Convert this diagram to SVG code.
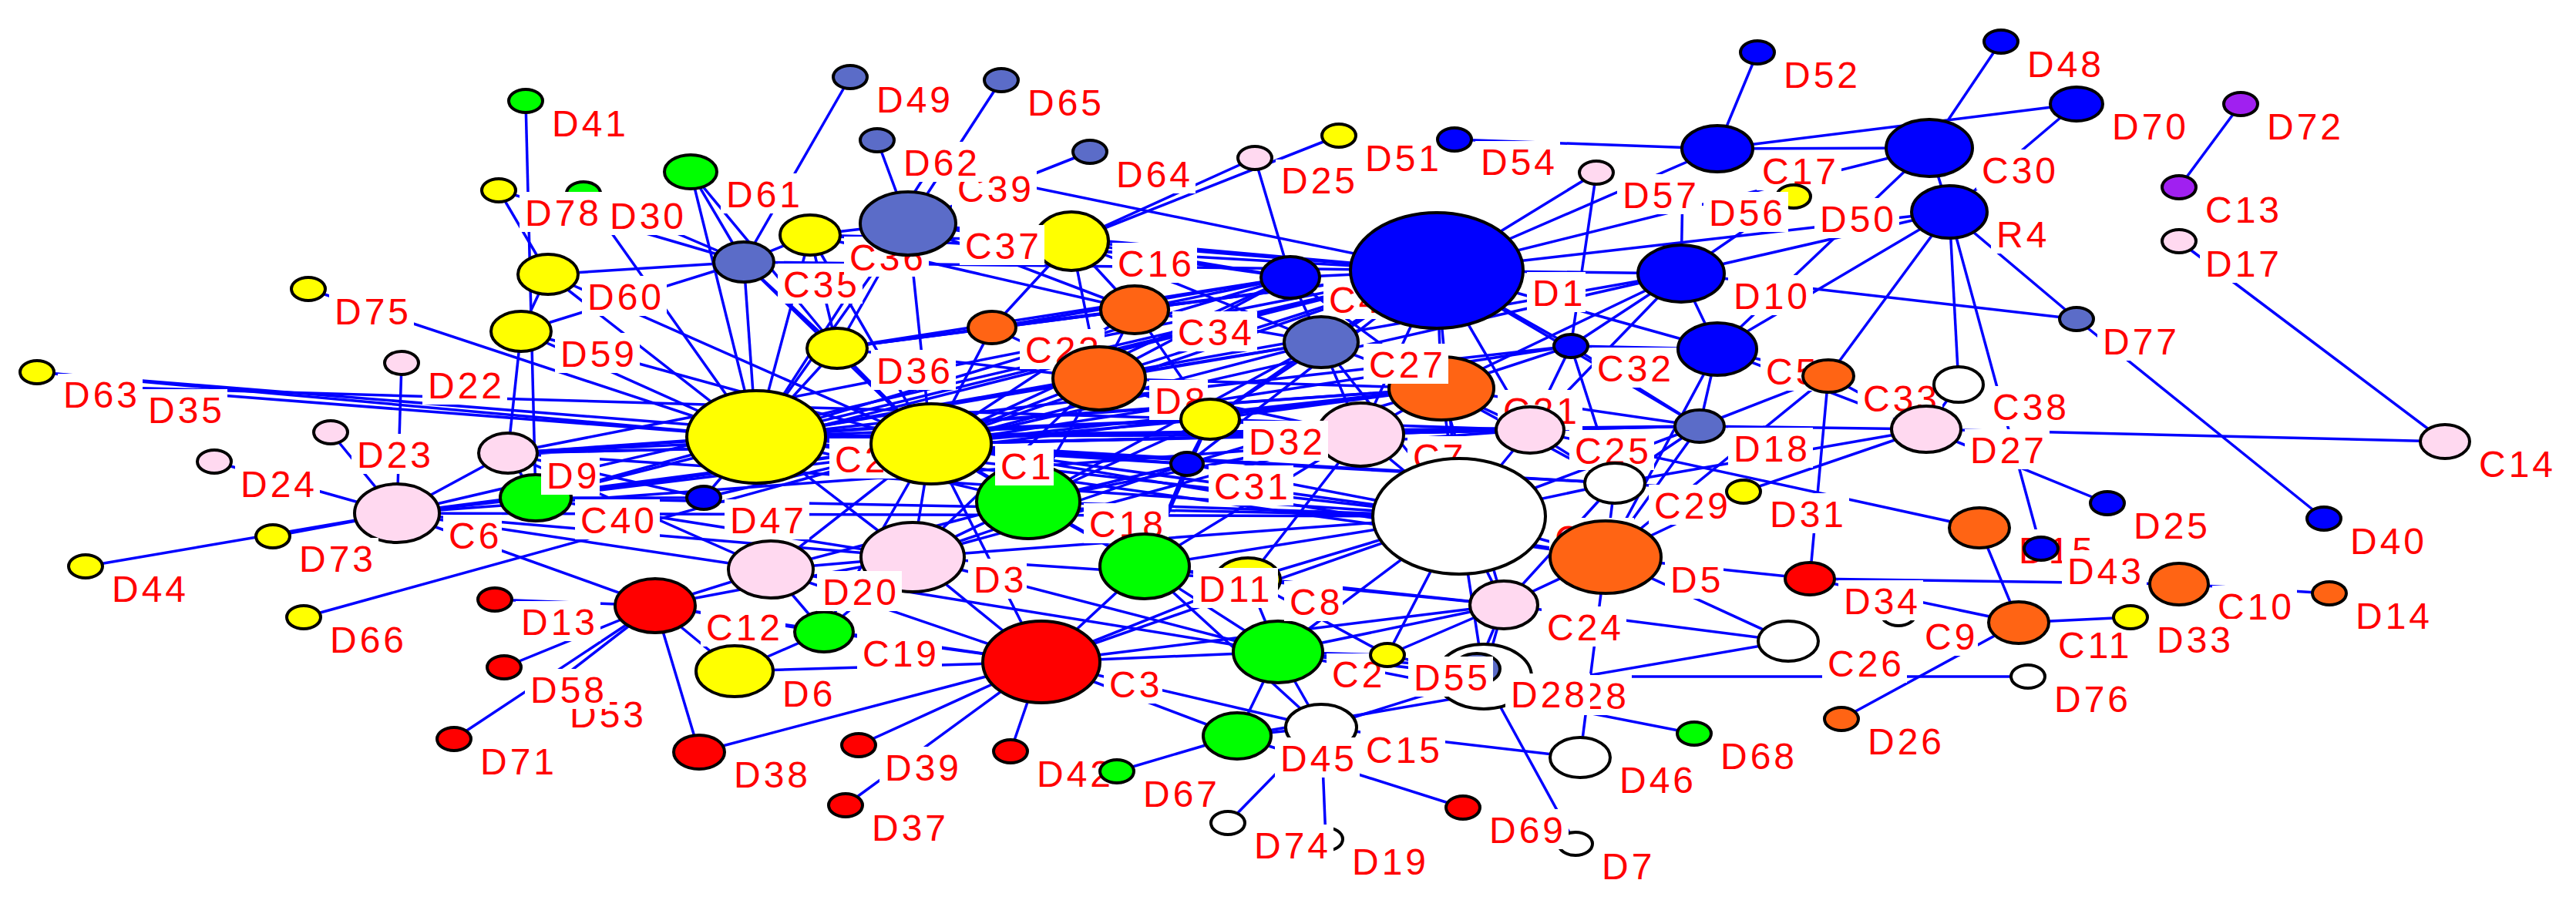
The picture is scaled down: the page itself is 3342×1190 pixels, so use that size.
<svg xmlns="http://www.w3.org/2000/svg" width="3342" height="1190" viewBox="0 0 3342 1190">
<style>
#edges line{stroke:#0000FF;stroke-width:3.5}
ellipse{stroke:#000;stroke-width:4}
rect{fill:#fff}
text{font-family:"Liberation Sans",Arial,sans-serif;font-size:48px;letter-spacing:4px;fill:#FF0000}
.Y{fill:#FFFF00}.G{fill:#00FF00}.R{fill:#FF0000}.B{fill:#0000FF}.S{fill:#5B6CC8}.O{fill:#FF6414}.P{fill:#FFD9F0}.W{fill:#FFFFFF}.V{fill:#A020F0}
</style>
<rect x="0" y="0" width="3342" height="1190"/>
<g id="edges">
<line x1="682" y1="131" x2="695" y2="646"/>
<line x1="647" y1="247" x2="711" y2="356"/>
<line x1="647" y1="247" x2="965" y2="340"/>
<line x1="757" y1="251" x2="981" y2="567"/>
<line x1="757" y1="251" x2="965" y2="340"/>
<line x1="896" y1="223" x2="965" y2="340"/>
<line x1="896" y1="223" x2="981" y2="567"/>
<line x1="896" y1="223" x2="1086" y2="452"/>
<line x1="1103" y1="100" x2="965" y2="340"/>
<line x1="1299" y1="104" x2="1178" y2="290"/>
<line x1="1138" y1="182" x2="1178" y2="290"/>
<line x1="1414" y1="197" x2="1178" y2="290"/>
<line x1="1208" y1="216" x2="1864" y2="351"/>
<line x1="1208" y1="216" x2="981" y2="567"/>
<line x1="1628" y1="205" x2="1390" y2="313"/>
<line x1="1628" y1="205" x2="1674" y2="360"/>
<line x1="1737" y1="176" x2="1390" y2="313"/>
<line x1="1887" y1="181" x2="2228" y2="193"/>
<line x1="2228" y1="193" x2="2503" y2="192"/>
<line x1="2228" y1="193" x2="2694" y2="135"/>
<line x1="2596" y1="54" x2="2503" y2="192"/>
<line x1="2280" y1="68" x2="2228" y2="193"/>
<line x1="2503" y1="192" x2="2529" y2="275"/>
<line x1="2694" y1="135" x2="2529" y2="275"/>
<line x1="2529" y1="275" x2="2648" y2="712"/>
<line x1="2529" y1="275" x2="2694" y2="414"/>
<line x1="2181" y1="355" x2="2694" y2="414"/>
<line x1="2694" y1="414" x2="3015" y2="673"/>
<line x1="2827" y1="313" x2="3172" y2="573"/>
<line x1="2907" y1="135" x2="2827" y2="243"/>
<line x1="2499" y1="557" x2="3172" y2="573"/>
<line x1="2499" y1="557" x2="2734" y2="653"/>
<line x1="2181" y1="355" x2="2529" y2="275"/>
<line x1="2228" y1="453" x2="2529" y2="275"/>
<line x1="400" y1="375" x2="981" y2="567"/>
<line x1="48" y1="483" x2="981" y2="567"/>
<line x1="48" y1="483" x2="1208" y2="576"/>
<line x1="158" y1="503" x2="981" y2="567"/>
<line x1="158" y1="503" x2="1570" y2="544"/>
<line x1="521" y1="471" x2="515" y2="666"/>
<line x1="429" y1="561" x2="515" y2="666"/>
<line x1="278" y1="599" x2="515" y2="666"/>
<line x1="354" y1="696" x2="515" y2="666"/>
<line x1="111" y1="735" x2="515" y2="666"/>
<line x1="394" y1="801" x2="1208" y2="576"/>
<line x1="642" y1="778" x2="850" y2="786"/>
<line x1="654" y1="866" x2="850" y2="786"/>
<line x1="589" y1="959" x2="850" y2="786"/>
<line x1="705" y1="898" x2="850" y2="786"/>
<line x1="850" y1="786" x2="907" y2="976"/>
<line x1="907" y1="976" x2="1351" y2="859"/>
<line x1="1114" y1="967" x2="1351" y2="859"/>
<line x1="1097" y1="1045" x2="1351" y2="859"/>
<line x1="1311" y1="975" x2="1351" y2="859"/>
<line x1="1449" y1="1001" x2="1605" y2="955"/>
<line x1="1593" y1="1068" x2="1714" y2="944"/>
<line x1="1720" y1="1089" x2="1714" y2="944"/>
<line x1="1898" y1="1048" x2="1605" y2="955"/>
<line x1="2044" y1="1095" x2="1925" y2="878"/>
<line x1="2050" y1="983" x2="2083" y2="723"/>
<line x1="2050" y1="983" x2="1714" y2="944"/>
<line x1="2198" y1="952" x2="1658" y2="846"/>
<line x1="2389" y1="933" x2="2619" y2="808"/>
<line x1="2631" y1="878" x2="1925" y2="878"/>
<line x1="2320" y1="832" x2="1605" y2="955"/>
<line x1="2320" y1="832" x2="2083" y2="723"/>
<line x1="2320" y1="832" x2="1951" y2="785"/>
<line x1="2348" y1="751" x2="2827" y2="758"/>
<line x1="2348" y1="751" x2="2372" y2="488"/>
<line x1="2262" y1="638" x2="2083" y2="723"/>
<line x1="2262" y1="638" x2="2499" y2="557"/>
<line x1="2619" y1="808" x2="2348" y2="751"/>
<line x1="2619" y1="808" x2="2764" y2="801"/>
<line x1="2619" y1="808" x2="2568" y2="685"/>
<line x1="2827" y1="758" x2="3022" y2="770"/>
<line x1="1985" y1="558" x2="2568" y2="685"/>
<line x1="2348" y1="751" x2="2083" y2="723"/>
<line x1="2071" y1="224" x2="1864" y2="351"/>
<line x1="2071" y1="224" x2="2038" y2="449"/>
<line x1="2327" y1="255" x2="2181" y2="355"/>
<line x1="2228" y1="193" x2="1864" y2="351"/>
<line x1="2503" y1="192" x2="1864" y2="351"/>
<line x1="2503" y1="192" x2="2228" y2="453"/>
<line x1="2181" y1="355" x2="1864" y2="351"/>
<line x1="2183" y1="247" x2="2181" y2="355"/>
<line x1="981" y1="567" x2="1208" y2="576"/>
<line x1="981" y1="567" x2="1864" y2="351"/>
<line x1="981" y1="567" x2="1674" y2="360"/>
<line x1="981" y1="567" x2="1714" y2="444"/>
<line x1="981" y1="567" x2="1870" y2="504"/>
<line x1="981" y1="567" x2="1893" y2="670"/>
<line x1="981" y1="567" x2="2083" y2="723"/>
<line x1="981" y1="567" x2="1985" y2="558"/>
<line x1="981" y1="567" x2="2181" y2="355"/>
<line x1="981" y1="567" x2="1334" y2="651"/>
<line x1="981" y1="567" x2="1184" y2="723"/>
<line x1="981" y1="567" x2="659" y2="588"/>
<line x1="981" y1="567" x2="695" y2="646"/>
<line x1="981" y1="567" x2="1086" y2="452"/>
<line x1="981" y1="567" x2="965" y2="340"/>
<line x1="981" y1="567" x2="1051" y2="305"/>
<line x1="981" y1="567" x2="711" y2="356"/>
<line x1="981" y1="567" x2="676" y2="430"/>
<line x1="981" y1="567" x2="1426" y2="491"/>
<line x1="981" y1="567" x2="1570" y2="544"/>
<line x1="981" y1="567" x2="2038" y2="449"/>
<line x1="981" y1="567" x2="913" y2="646"/>
<line x1="981" y1="567" x2="1178" y2="290"/>
<line x1="1208" y1="576" x2="1864" y2="351"/>
<line x1="1208" y1="576" x2="1714" y2="444"/>
<line x1="1208" y1="576" x2="1870" y2="504"/>
<line x1="1208" y1="576" x2="1893" y2="670"/>
<line x1="1208" y1="576" x2="1334" y2="651"/>
<line x1="1208" y1="576" x2="1184" y2="723"/>
<line x1="1208" y1="576" x2="1086" y2="452"/>
<line x1="1208" y1="576" x2="1051" y2="305"/>
<line x1="1208" y1="576" x2="1287" y2="425"/>
<line x1="1208" y1="576" x2="1426" y2="491"/>
<line x1="1208" y1="576" x2="1472" y2="402"/>
<line x1="1208" y1="576" x2="1570" y2="544"/>
<line x1="1208" y1="576" x2="1765" y2="564"/>
<line x1="1208" y1="576" x2="1985" y2="558"/>
<line x1="1208" y1="576" x2="2083" y2="723"/>
<line x1="1208" y1="576" x2="2095" y2="627"/>
<line x1="1208" y1="576" x2="1540" y2="602"/>
<line x1="1208" y1="576" x2="1485" y2="735"/>
<line x1="1208" y1="576" x2="1178" y2="290"/>
<line x1="1208" y1="576" x2="965" y2="340"/>
<line x1="1208" y1="576" x2="659" y2="588"/>
<line x1="1208" y1="576" x2="515" y2="666"/>
<line x1="1208" y1="576" x2="695" y2="646"/>
<line x1="1208" y1="576" x2="913" y2="646"/>
<line x1="1208" y1="576" x2="1000" y2="739"/>
<line x1="1208" y1="576" x2="1069" y2="820"/>
<line x1="1208" y1="576" x2="1351" y2="859"/>
<line x1="1864" y1="351" x2="1674" y2="360"/>
<line x1="1864" y1="351" x2="1714" y2="444"/>
<line x1="1864" y1="351" x2="1870" y2="504"/>
<line x1="1864" y1="351" x2="2038" y2="449"/>
<line x1="1864" y1="351" x2="1390" y2="313"/>
<line x1="1864" y1="351" x2="1472" y2="402"/>
<line x1="1864" y1="351" x2="1178" y2="290"/>
<line x1="1864" y1="351" x2="1426" y2="491"/>
<line x1="1864" y1="351" x2="2228" y2="453"/>
<line x1="1864" y1="351" x2="2205" y2="553"/>
<line x1="1864" y1="351" x2="1985" y2="558"/>
<line x1="1864" y1="351" x2="1893" y2="670"/>
<line x1="1864" y1="351" x2="2529" y2="275"/>
<line x1="1864" y1="351" x2="1570" y2="544"/>
<line x1="1864" y1="351" x2="1287" y2="425"/>
<line x1="1864" y1="351" x2="1051" y2="305"/>
<line x1="1864" y1="351" x2="1765" y2="564"/>
<line x1="1893" y1="670" x2="2083" y2="723"/>
<line x1="1893" y1="670" x2="1951" y2="785"/>
<line x1="1893" y1="670" x2="1658" y2="846"/>
<line x1="1893" y1="670" x2="1765" y2="564"/>
<line x1="1893" y1="670" x2="1870" y2="504"/>
<line x1="1893" y1="670" x2="1985" y2="558"/>
<line x1="1893" y1="670" x2="1184" y2="723"/>
<line x1="1893" y1="670" x2="1334" y2="651"/>
<line x1="1893" y1="670" x2="1485" y2="735"/>
<line x1="1893" y1="670" x2="1619" y2="752"/>
<line x1="1893" y1="670" x2="1351" y2="859"/>
<line x1="1893" y1="670" x2="2095" y2="627"/>
<line x1="1893" y1="670" x2="2205" y2="553"/>
<line x1="1893" y1="670" x2="1925" y2="878"/>
<line x1="1893" y1="670" x2="1800" y2="850"/>
<line x1="1893" y1="670" x2="659" y2="588"/>
<line x1="1893" y1="670" x2="515" y2="666"/>
<line x1="2083" y1="723" x2="2095" y2="627"/>
<line x1="2083" y1="723" x2="1951" y2="785"/>
<line x1="2083" y1="723" x2="2205" y2="553"/>
<line x1="2083" y1="723" x2="2228" y2="453"/>
<line x1="2083" y1="723" x2="2372" y2="488"/>
<line x1="1351" y1="859" x2="1658" y2="846"/>
<line x1="1351" y1="859" x2="1069" y2="820"/>
<line x1="1351" y1="859" x2="1485" y2="735"/>
<line x1="1351" y1="859" x2="1184" y2="723"/>
<line x1="1351" y1="859" x2="1000" y2="739"/>
<line x1="1351" y1="859" x2="850" y2="786"/>
<line x1="1351" y1="859" x2="953" y2="871"/>
<line x1="1351" y1="859" x2="1714" y2="944"/>
<line x1="1351" y1="859" x2="1605" y2="955"/>
<line x1="1351" y1="859" x2="1951" y2="785"/>
<line x1="1351" y1="859" x2="1619" y2="752"/>
<line x1="1184" y1="723" x2="1000" y2="739"/>
<line x1="1184" y1="723" x2="1334" y2="651"/>
<line x1="1184" y1="723" x2="1069" y2="820"/>
<line x1="1184" y1="723" x2="1619" y2="752"/>
<line x1="1184" y1="723" x2="1658" y2="846"/>
<line x1="1184" y1="723" x2="695" y2="646"/>
<line x1="1000" y1="739" x2="850" y2="786"/>
<line x1="1000" y1="739" x2="1069" y2="820"/>
<line x1="1000" y1="739" x2="659" y2="588"/>
<line x1="1000" y1="739" x2="515" y2="666"/>
<line x1="1658" y1="846" x2="1951" y2="785"/>
<line x1="1658" y1="846" x2="1800" y2="850"/>
<line x1="1658" y1="846" x2="1485" y2="735"/>
<line x1="1658" y1="846" x2="1619" y2="752"/>
<line x1="1658" y1="846" x2="1714" y2="944"/>
<line x1="1658" y1="846" x2="1605" y2="955"/>
<line x1="1658" y1="846" x2="1925" y2="878"/>
<line x1="515" y1="666" x2="695" y2="646"/>
<line x1="515" y1="666" x2="659" y2="588"/>
<line x1="515" y1="666" x2="850" y2="786"/>
<line x1="515" y1="666" x2="1184" y2="723"/>
<line x1="515" y1="666" x2="1864" y2="351"/>
<line x1="659" y1="588" x2="695" y2="646"/>
<line x1="659" y1="588" x2="913" y2="646"/>
<line x1="659" y1="588" x2="1864" y2="351"/>
<line x1="1069" y1="820" x2="850" y2="786"/>
<line x1="1069" y1="820" x2="953" y2="871"/>
<line x1="953" y1="871" x2="850" y2="786"/>
<line x1="1714" y1="444" x2="1765" y2="564"/>
<line x1="1714" y1="444" x2="1870" y2="504"/>
<line x1="1714" y1="444" x2="1570" y2="544"/>
<line x1="1714" y1="444" x2="1674" y2="360"/>
<line x1="1714" y1="444" x2="1390" y2="313"/>
<line x1="1714" y1="444" x2="1472" y2="402"/>
<line x1="1765" y1="564" x2="1570" y2="544"/>
<line x1="1765" y1="564" x2="1870" y2="504"/>
<line x1="1765" y1="564" x2="1619" y2="752"/>
<line x1="1765" y1="564" x2="1485" y2="735"/>
<line x1="1985" y1="558" x2="2038" y2="449"/>
<line x1="1985" y1="558" x2="2205" y2="553"/>
<line x1="1985" y1="558" x2="2095" y2="627"/>
<line x1="1985" y1="558" x2="1870" y2="504"/>
<line x1="2095" y1="627" x2="1951" y2="785"/>
<line x1="2095" y1="627" x2="2205" y2="553"/>
<line x1="2095" y1="627" x2="2262" y2="638"/>
<line x1="2181" y1="355" x2="2228" y2="453"/>
<line x1="2181" y1="355" x2="2038" y2="449"/>
<line x1="2181" y1="355" x2="1870" y2="504"/>
<line x1="2228" y1="453" x2="2205" y2="553"/>
<line x1="2228" y1="453" x2="2372" y2="488"/>
<line x1="2228" y1="453" x2="2038" y2="449"/>
<line x1="2228" y1="453" x2="2499" y2="557"/>
<line x1="2541" y1="499" x2="2529" y2="275"/>
<line x1="2541" y1="499" x2="2499" y2="557"/>
<line x1="2372" y1="488" x2="2499" y2="557"/>
<line x1="2372" y1="488" x2="2529" y2="275"/>
<line x1="2499" y1="557" x2="2205" y2="553"/>
<line x1="2499" y1="557" x2="2095" y2="627"/>
<line x1="1390" y1="313" x2="1472" y2="402"/>
<line x1="1390" y1="313" x2="1287" y2="425"/>
<line x1="1390" y1="313" x2="1178" y2="290"/>
<line x1="1390" y1="313" x2="1051" y2="305"/>
<line x1="1472" y1="402" x2="1426" y2="491"/>
<line x1="1472" y1="402" x2="1674" y2="360"/>
<line x1="1472" y1="402" x2="1570" y2="544"/>
<line x1="1472" y1="402" x2="1287" y2="425"/>
<line x1="1086" y1="452" x2="1287" y2="425"/>
<line x1="1086" y1="452" x2="965" y2="340"/>
<line x1="1086" y1="452" x2="1051" y2="305"/>
<line x1="1086" y1="452" x2="1178" y2="290"/>
<line x1="1086" y1="452" x2="1426" y2="491"/>
<line x1="965" y1="340" x2="1051" y2="305"/>
<line x1="965" y1="340" x2="711" y2="356"/>
<line x1="965" y1="340" x2="676" y2="430"/>
<line x1="1178" y1="290" x2="1051" y2="305"/>
<line x1="1540" y1="602" x2="1334" y2="651"/>
<line x1="1540" y1="602" x2="1485" y2="735"/>
<line x1="1540" y1="602" x2="1864" y2="351"/>
<line x1="1540" y1="602" x2="1570" y2="544"/>
<line x1="1426" y1="491" x2="1184" y2="723"/>
<line x1="1426" y1="491" x2="1334" y2="651"/>
<line x1="1426" y1="491" x2="1287" y2="425"/>
<line x1="1426" y1="491" x2="1570" y2="544"/>
<line x1="1570" y1="544" x2="1485" y2="735"/>
<line x1="1570" y1="544" x2="1334" y2="651"/>
<line x1="1951" y1="785" x2="1800" y2="850"/>
<line x1="1951" y1="785" x2="1619" y2="752"/>
<line x1="1951" y1="785" x2="1925" y2="878"/>
<line x1="913" y1="646" x2="695" y2="646"/>
<line x1="711" y1="356" x2="1208" y2="576"/>
<line x1="676" y1="430" x2="1208" y2="576"/>
<line x1="676" y1="430" x2="659" y2="588"/>
<line x1="676" y1="430" x2="711" y2="356"/>
<line x1="2205" y1="553" x2="2372" y2="488"/>
<line x1="2038" y1="449" x2="2205" y2="553"/>
<line x1="1870" y1="504" x2="2205" y2="553"/>
<line x1="1870" y1="504" x2="2038" y2="449"/>
<line x1="1916" y1="868" x2="1951" y2="785"/>
<line x1="1916" y1="868" x2="1658" y2="846"/>
<line x1="1800" y1="850" x2="1925" y2="878"/>
<line x1="1714" y1="944" x2="1925" y2="878"/>
<line x1="1605" y1="955" x2="1714" y2="944"/>
<line x1="1619" y1="752" x2="1485" y2="735"/>
<line x1="1334" y1="651" x2="1485" y2="735"/>
<line x1="515" y1="666" x2="1985" y2="558"/>
<line x1="695" y1="646" x2="1864" y2="351"/>
<line x1="695" y1="646" x2="1893" y2="670"/>
<line x1="695" y1="646" x2="1870" y2="504"/>
<line x1="659" y1="588" x2="1870" y2="504"/>
<line x1="659" y1="588" x2="1985" y2="558"/>
<line x1="659" y1="588" x2="1570" y2="544"/>
<line x1="981" y1="567" x2="2095" y2="627"/>
<line x1="981" y1="567" x2="2205" y2="553"/>
<line x1="981" y1="567" x2="1765" y2="564"/>
<line x1="981" y1="567" x2="1540" y2="602"/>
<line x1="1208" y1="576" x2="2205" y2="553"/>
<line x1="1208" y1="576" x2="2038" y2="449"/>
<line x1="1208" y1="576" x2="2181" y2="355"/>
<line x1="1208" y1="576" x2="1674" y2="360"/>
<line x1="1086" y1="452" x2="1864" y2="351"/>
<line x1="1086" y1="452" x2="1472" y2="402"/>
<line x1="1086" y1="452" x2="1674" y2="360"/>
<line x1="965" y1="340" x2="1864" y2="351"/>
<line x1="1051" y1="305" x2="1472" y2="402"/>
<line x1="1178" y1="290" x2="1472" y2="402"/>
<line x1="1178" y1="290" x2="1674" y2="360"/>
<line x1="1287" y1="425" x2="1674" y2="360"/>
<line x1="1426" y1="491" x2="1674" y2="360"/>
<line x1="1426" y1="491" x2="1714" y2="444"/>
<line x1="1426" y1="491" x2="1765" y2="564"/>
<line x1="1426" y1="491" x2="1870" y2="504"/>
<line x1="1570" y1="544" x2="1870" y2="504"/>
<line x1="1570" y1="544" x2="1985" y2="558"/>
<line x1="1334" y1="651" x2="1765" y2="564"/>
<line x1="1334" y1="651" x2="1714" y2="444"/>
<line x1="1485" y1="735" x2="1951" y2="785"/>
<line x1="1540" y1="602" x2="1893" y2="670"/>
<line x1="1540" y1="602" x2="1870" y2="504"/>
<line x1="1184" y1="723" x2="1765" y2="564"/>
<line x1="1184" y1="723" x2="1540" y2="602"/>
<line x1="1000" y1="739" x2="1334" y2="651"/>
<line x1="850" y1="786" x2="1184" y2="723"/>
<line x1="1870" y1="504" x2="2095" y2="627"/>
<line x1="1870" y1="504" x2="1951" y2="785"/>
<line x1="1714" y1="444" x2="1893" y2="670"/>
<line x1="1674" y1="360" x2="1870" y2="504"/>
<line x1="1390" y1="313" x2="1426" y2="491"/>
<line x1="1390" y1="313" x2="1674" y2="360"/>
<line x1="1985" y1="558" x2="2181" y2="355"/>
<line x1="2095" y1="627" x2="2038" y2="449"/>
<line x1="1800" y1="850" x2="1619" y2="752"/>
<line x1="1658" y1="846" x2="1000" y2="739"/>
<line x1="1714" y1="944" x2="1485" y2="735"/>
</g>
<g id="C2"><ellipse class="G" cx="1658" cy="846" rx="58" ry="40"/><rect x="1721" y="848" width="76" height="52"/><text x="1728" y="892">C2</text></g>
<g id="C3"><ellipse class="R" cx="1351" cy="859" rx="76" ry="53"/><rect x="1432" y="861" width="76" height="52"/><text x="1439" y="905">C3</text></g>
<g id="C4"><ellipse class="B" cx="1674" cy="360" rx="38" ry="27"/><rect x="1717" y="362" width="76" height="52"/><text x="1724" y="406">C4</text></g>
<g id="C5"><ellipse class="B" cx="2228" cy="453" rx="51" ry="34"/><rect x="2284" y="455" width="76" height="52"/><text x="2291" y="499">C5</text></g>
<g id="C6"><ellipse class="P" cx="515" cy="666" rx="55" ry="38"/><rect x="575" y="668" width="76" height="52"/><text x="582" y="712">C6</text></g>
<g id="C7"><ellipse class="P" cx="1765" cy="564" rx="56" ry="41"/><rect x="1826" y="566" width="76" height="52"/><text x="1833" y="610">C7</text></g>
<g id="C8"><ellipse class="Y" cx="1619" cy="752" rx="42" ry="28"/><rect x="1666" y="754" width="76" height="52"/><text x="1673" y="798">C8</text></g>
<g id="C9"><ellipse class="W" cx="2463" cy="797" rx="22" ry="15"/><rect x="2490" y="799" width="76" height="52"/><text x="2497" y="843">C9</text></g>
<g id="C10"><ellipse class="O" cx="2827" cy="758" rx="38" ry="27"/><rect x="2870" y="760" width="110" height="52"/><text x="2877" y="804">C10</text></g>
<g id="C11"><ellipse class="O" cx="2619" cy="808" rx="39" ry="27"/><rect x="2663" y="810" width="110" height="52"/><text x="2670" y="854">C11</text></g>
<g id="C12"><ellipse class="R" cx="850" cy="786" rx="52" ry="35"/><rect x="909" y="787" width="110" height="52"/><text x="916" y="831">C12</text></g>
<g id="C13"><ellipse class="V" cx="2827" cy="243" rx="22" ry="15"/><rect x="2854" y="245" width="110" height="52"/><text x="2861" y="289">C13</text></g>
<g id="C14"><ellipse class="P" cx="3172" cy="573" rx="32" ry="22"/><rect x="3209" y="575" width="110" height="52"/><text x="3216" y="619">C14</text></g>
<g id="C15"><ellipse class="W" cx="1714" cy="944" rx="46" ry="30"/><rect x="1765" y="946" width="110" height="52"/><text x="1772" y="990">C15</text></g>
<g id="C16"><ellipse class="Y" cx="1390" cy="313" rx="48" ry="38"/><rect x="1443" y="315" width="110" height="52"/><text x="1450" y="359">C16</text></g>
<g id="C17"><ellipse class="B" cx="2228" cy="193" rx="46" ry="30"/><rect x="2279" y="195" width="110" height="52"/><text x="2286" y="239">C17</text></g>
<g id="C18"><ellipse class="G" cx="1334" cy="651" rx="67" ry="48"/><rect x="1406" y="653" width="110" height="52"/><text x="1413" y="697">C18</text></g>
<g id="C19"><ellipse class="G" cx="1069" cy="820" rx="38" ry="26"/><rect x="1112" y="821" width="110" height="52"/><text x="1119" y="865">C19</text></g>
<g id="C20"><ellipse class="W" cx="1893" cy="670" rx="112" ry="75"/><rect x="2010" y="672" width="110" height="52"/><text x="2017" y="716">C20</text></g>
<g id="C21"><ellipse class="O" cx="1870" cy="504" rx="68" ry="41"/><rect x="1943" y="506" width="110" height="52"/><text x="1950" y="550">C21</text></g>
<g id="C22"><ellipse class="Y" cx="981" cy="567" rx="90" ry="60"/><rect x="1076" y="569" width="110" height="52"/><text x="1083" y="613">C22</text></g>
<g id="C23"><ellipse class="O" cx="1287" cy="425" rx="31" ry="21"/><rect x="1323" y="427" width="110" height="52"/><text x="1330" y="471">C23</text></g>
<g id="C24"><ellipse class="P" cx="1951" cy="785" rx="44" ry="31"/><rect x="2000" y="787" width="110" height="52"/><text x="2007" y="831">C24</text></g>
<g id="C25"><ellipse class="P" cx="1985" cy="558" rx="44" ry="30"/><rect x="2036" y="558" width="110" height="52"/><text x="2043" y="602">C25</text></g>
<g id="C26"><ellipse class="W" cx="2320" cy="832" rx="39" ry="26"/><rect x="2364" y="834" width="110" height="52"/><text x="2371" y="878">C26</text></g>
<g id="C27"><ellipse class="S" cx="1714" cy="444" rx="48" ry="33"/><rect x="1769" y="446" width="110" height="52"/><text x="1776" y="490">C27</text></g>
<g id="C28"><ellipse class="W" cx="1925" cy="878" rx="62" ry="42"/><rect x="2007" y="876" width="110" height="52"/><text x="2014" y="920">C28</text></g>
<g id="C29"><ellipse class="W" cx="2095" cy="627" rx="39" ry="26"/><rect x="2139" y="629" width="110" height="52"/><text x="2146" y="673">C29</text></g>
<g id="C30"><ellipse class="B" cx="2503" cy="192" rx="56" ry="37"/><rect x="2564" y="194" width="110" height="52"/><text x="2571" y="238">C30</text></g>
<g id="C31"><ellipse class="B" cx="1540" cy="602" rx="21" ry="15"/><rect x="1568" y="604" width="110" height="52"/><text x="1575" y="648">C31</text></g>
<g id="C32"><ellipse class="B" cx="2038" cy="449" rx="22" ry="15"/><rect x="2065" y="451" width="110" height="52"/><text x="2072" y="495">C32</text></g>
<g id="C33"><ellipse class="O" cx="2372" cy="488" rx="33" ry="21"/><rect x="2410" y="490" width="110" height="52"/><text x="2417" y="534">C33</text></g>
<g id="C34"><ellipse class="O" cx="1472" cy="402" rx="44" ry="31"/><rect x="1521" y="404" width="110" height="52"/><text x="1528" y="448">C34</text></g>
<g id="C35"><ellipse class="S" cx="965" cy="340" rx="39" ry="26"/><rect x="1009" y="342" width="110" height="52"/><text x="1016" y="386">C35</text></g>
<g id="C36"><ellipse class="Y" cx="1051" cy="305" rx="39" ry="26"/><rect x="1095" y="307" width="110" height="52"/><text x="1102" y="351">C36</text></g>
<g id="C37"><ellipse class="S" cx="1178" cy="290" rx="62" ry="41"/><rect x="1245" y="292" width="110" height="52"/><text x="1252" y="336">C37</text></g>
<g id="C38"><ellipse class="W" cx="2541" cy="499" rx="32" ry="23"/><rect x="2578" y="501" width="110" height="52"/><text x="2585" y="545">C38</text></g>
<g id="C39"><ellipse class="S" cx="1208" cy="216" rx="22" ry="15"/><rect x="1235" y="218" width="110" height="52"/><text x="1242" y="262">C39</text></g>
<g id="C40"><ellipse class="G" cx="695" cy="646" rx="46" ry="30"/><rect x="746" y="648" width="110" height="52"/><text x="753" y="692">C40</text></g>
<g id="C1"><ellipse class="Y" cx="1208" cy="576" rx="78" ry="52"/><rect x="1291" y="578" width="76" height="52"/><text x="1298" y="622">C1</text></g>
<g id="D1"><ellipse class="B" cx="1864" cy="351" rx="112" ry="75"/><rect x="1981" y="353" width="76" height="52"/><text x="1988" y="397">D1</text></g>
<g id="D3"><ellipse class="P" cx="1184" cy="723" rx="67" ry="45"/><rect x="1256" y="725" width="76" height="52"/><text x="1263" y="769">D3</text></g>
<g id="D5"><ellipse class="O" cx="2083" cy="723" rx="72" ry="47"/><rect x="2160" y="725" width="76" height="52"/><text x="2167" y="769">D5</text></g>
<g id="D6"><ellipse class="Y" cx="953" cy="871" rx="50" ry="33"/><rect x="1008" y="873" width="76" height="52"/><text x="1015" y="917">D6</text></g>
<g id="D7"><ellipse class="W" cx="2044" cy="1095" rx="22" ry="15"/><rect x="2071" y="1097" width="76" height="52"/><text x="2078" y="1141">D7</text></g>
<g id="D8"><ellipse class="O" cx="1426" cy="491" rx="60" ry="41"/><rect x="1491" y="493" width="76" height="52"/><text x="1498" y="537">D8</text></g>
<g id="D9"><ellipse class="P" cx="659" cy="588" rx="38" ry="26"/><rect x="702" y="590" width="76" height="52"/><text x="709" y="634">D9</text></g>
<g id="D10"><ellipse class="B" cx="2181" cy="355" rx="56" ry="37"/><rect x="2242" y="357" width="110" height="52"/><text x="2249" y="401">D10</text></g>
<g id="D11"><ellipse class="G" cx="1485" cy="735" rx="58" ry="42"/><rect x="1548" y="737" width="110" height="52"/><text x="1555" y="781">D11</text></g>
<g id="D13"><ellipse class="R" cx="642" cy="778" rx="22" ry="15"/><rect x="669" y="780" width="110" height="52"/><text x="676" y="824">D13</text></g>
<g id="D14"><ellipse class="O" cx="3022" cy="770" rx="22" ry="15"/><rect x="3049" y="772" width="110" height="52"/><text x="3056" y="816">D14</text></g>
<g id="D15"><ellipse class="O" cx="2568" cy="685" rx="39" ry="26"/><rect x="2612" y="687" width="110" height="52"/><text x="2619" y="731">D15</text></g>
<g id="D17"><ellipse class="P" cx="2827" cy="313" rx="22" ry="15"/><rect x="2854" y="315" width="110" height="52"/><text x="2861" y="359">D17</text></g>
<g id="D18"><ellipse class="S" cx="2205" cy="553" rx="32" ry="21"/><rect x="2242" y="555" width="110" height="52"/><text x="2249" y="599">D18</text></g>
<g id="D19"><ellipse class="W" cx="1720" cy="1089" rx="22" ry="15"/><rect x="1747" y="1091" width="110" height="52"/><text x="1754" y="1135">D19</text></g>
<g id="D20"><ellipse class="P" cx="1000" cy="739" rx="55" ry="37"/><rect x="1060" y="741" width="110" height="52"/><text x="1067" y="785">D20</text></g>
<g id="D22"><ellipse class="P" cx="521" cy="471" rx="22" ry="15"/><rect x="548" y="473" width="110" height="52"/><text x="555" y="517">D22</text></g>
<g id="D23"><ellipse class="P" cx="429" cy="561" rx="22" ry="15"/><rect x="456" y="563" width="110" height="52"/><text x="463" y="607">D23</text></g>
<g id="D24"><ellipse class="P" cx="278" cy="599" rx="22" ry="15"/><rect x="305" y="601" width="110" height="52"/><text x="312" y="645">D24</text></g>
<g id="D25a"><ellipse class="P" cx="1628" cy="205" rx="22" ry="15"/><rect x="1655" y="207" width="110" height="52"/><text x="1662" y="251">D25</text></g>
<g id="D25b"><ellipse class="B" cx="2734" cy="653" rx="22" ry="15"/><rect x="2761" y="655" width="110" height="52"/><text x="2768" y="699">D25</text></g>
<g id="D26"><ellipse class="O" cx="2389" cy="933" rx="22" ry="15"/><rect x="2416" y="935" width="110" height="52"/><text x="2423" y="979">D26</text></g>
<g id="D27"><ellipse class="P" cx="2499" cy="557" rx="45" ry="30"/><rect x="2549" y="557" width="110" height="52"/><text x="2556" y="601">D27</text></g>
<g id="D28"><ellipse class="S" cx="1916" cy="868" rx="30" ry="20"/><rect x="1953" y="874" width="110" height="52"/><text x="1960" y="918">D28</text></g>
<g id="D30"><ellipse class="G" cx="757" cy="251" rx="22" ry="15"/><rect x="784" y="253" width="110" height="52"/><text x="791" y="297">D30</text></g>
<g id="D31"><ellipse class="Y" cx="2262" cy="638" rx="22" ry="15"/><rect x="2289" y="640" width="110" height="52"/><text x="2296" y="684">D31</text></g>
<g id="D32"><ellipse class="Y" cx="1570" cy="544" rx="38" ry="26"/><rect x="1613" y="546" width="110" height="52"/><text x="1620" y="590">D32</text></g>
<g id="D33"><ellipse class="Y" cx="2764" cy="801" rx="22" ry="15"/><rect x="2791" y="803" width="110" height="52"/><text x="2798" y="847">D33</text></g>
<g id="D34"><ellipse class="R" cx="2348" cy="751" rx="32" ry="21"/><rect x="2385" y="753" width="110" height="52"/><text x="2392" y="797">D34</text></g>
<g id="D35"><ellipse class="Y" cx="158" cy="503" rx="22" ry="15"/><rect x="185" y="505" width="110" height="52"/><text x="192" y="549">D35</text></g>
<g id="D36"><ellipse class="Y" cx="1086" cy="452" rx="39" ry="26"/><rect x="1130" y="454" width="110" height="52"/><text x="1137" y="498">D36</text></g>
<g id="D37"><ellipse class="R" cx="1097" cy="1045" rx="22" ry="15"/><rect x="1124" y="1047" width="110" height="52"/><text x="1131" y="1091">D37</text></g>
<g id="D38"><ellipse class="R" cx="907" cy="976" rx="33" ry="22"/><rect x="945" y="978" width="110" height="52"/><text x="952" y="1022">D38</text></g>
<g id="D39"><ellipse class="R" cx="1114" cy="967" rx="22" ry="15"/><rect x="1141" y="969" width="110" height="52"/><text x="1148" y="1013">D39</text></g>
<g id="D40"><ellipse class="B" cx="3015" cy="673" rx="22" ry="15"/><rect x="3042" y="675" width="110" height="52"/><text x="3049" y="719">D40</text></g>
<g id="D41"><ellipse class="G" cx="682" cy="131" rx="22" ry="15"/><rect x="709" y="133" width="110" height="52"/><text x="716" y="177">D41</text></g>
<g id="D42"><ellipse class="R" cx="1311" cy="975" rx="22" ry="15"/><rect x="1338" y="977" width="110" height="52"/><text x="1345" y="1021">D42</text></g>
<g id="D43"><ellipse class="B" cx="2648" cy="712" rx="22" ry="15"/><rect x="2675" y="714" width="110" height="52"/><text x="2682" y="758">D43</text></g>
<g id="D44"><ellipse class="Y" cx="111" cy="735" rx="22" ry="15"/><rect x="138" y="737" width="110" height="52"/><text x="145" y="781">D44</text></g>
<g id="D45"><ellipse class="G" cx="1605" cy="955" rx="44" ry="30"/><rect x="1654" y="957" width="110" height="52"/><text x="1661" y="1001">D45</text></g>
<g id="D46"><ellipse class="W" cx="2050" cy="983" rx="39" ry="26"/><rect x="2094" y="985" width="110" height="52"/><text x="2101" y="1029">D46</text></g>
<g id="D47"><ellipse class="B" cx="913" cy="646" rx="22" ry="15"/><rect x="940" y="648" width="110" height="52"/><text x="947" y="692">D47</text></g>
<g id="D48"><ellipse class="B" cx="2596" cy="54" rx="22" ry="15"/><rect x="2623" y="56" width="110" height="52"/><text x="2630" y="100">D48</text></g>
<g id="D49"><ellipse class="S" cx="1103" cy="100" rx="22" ry="15"/><rect x="1130" y="102" width="110" height="52"/><text x="1137" y="146">D49</text></g>
<g id="D50"><ellipse class="Y" cx="2327" cy="255" rx="22" ry="15"/><rect x="2354" y="257" width="110" height="52"/><text x="2361" y="301">D50</text></g>
<g id="D51"><ellipse class="Y" cx="1737" cy="176" rx="22" ry="15"/><rect x="1764" y="178" width="110" height="52"/><text x="1771" y="222">D51</text></g>
<g id="D52"><ellipse class="B" cx="2280" cy="68" rx="22" ry="15"/><rect x="2307" y="70" width="110" height="52"/><text x="2314" y="114">D52</text></g>
<g id="D53"><ellipse class="R" cx="705" cy="898" rx="22" ry="15"/><rect x="732" y="900" width="110" height="52"/><text x="739" y="944">D53</text></g>
<g id="D54"><ellipse class="B" cx="1887" cy="181" rx="22" ry="15"/><rect x="1914" y="183" width="110" height="52"/><text x="1921" y="227">D54</text></g>
<g id="D55"><ellipse class="Y" cx="1800" cy="850" rx="22" ry="15"/><rect x="1827" y="852" width="110" height="52"/><text x="1834" y="896">D55</text></g>
<g id="D56"><ellipse class="Y" cx="2183" cy="247" rx="22" ry="15"/><rect x="2210" y="249" width="110" height="52"/><text x="2217" y="293">D56</text></g>
<g id="D57"><ellipse class="P" cx="2071" cy="224" rx="22" ry="15"/><rect x="2098" y="226" width="110" height="52"/><text x="2105" y="270">D57</text></g>
<g id="D58"><ellipse class="R" cx="654" cy="866" rx="22" ry="15"/><rect x="681" y="868" width="110" height="52"/><text x="688" y="912">D58</text></g>
<g id="D59"><ellipse class="Y" cx="676" cy="430" rx="39" ry="26"/><rect x="720" y="432" width="110" height="52"/><text x="727" y="476">D59</text></g>
<g id="D60"><ellipse class="Y" cx="711" cy="356" rx="39" ry="26"/><rect x="755" y="358" width="110" height="52"/><text x="762" y="402">D60</text></g>
<g id="D61"><ellipse class="G" cx="896" cy="223" rx="34" ry="22"/><rect x="935" y="225" width="110" height="52"/><text x="942" y="269">D61</text></g>
<g id="D62"><ellipse class="S" cx="1138" cy="182" rx="22" ry="15"/><rect x="1165" y="184" width="110" height="52"/><text x="1172" y="228">D62</text></g>
<g id="D63"><ellipse class="Y" cx="48" cy="483" rx="22" ry="15"/><rect x="75" y="485" width="110" height="52"/><text x="82" y="529">D63</text></g>
<g id="D64"><ellipse class="S" cx="1414" cy="197" rx="22" ry="15"/><rect x="1441" y="199" width="110" height="52"/><text x="1448" y="243">D64</text></g>
<g id="D65"><ellipse class="S" cx="1299" cy="104" rx="22" ry="15"/><rect x="1326" y="106" width="110" height="52"/><text x="1333" y="150">D65</text></g>
<g id="D66"><ellipse class="Y" cx="394" cy="801" rx="22" ry="15"/><rect x="421" y="803" width="110" height="52"/><text x="428" y="847">D66</text></g>
<g id="D67"><ellipse class="G" cx="1449" cy="1001" rx="22" ry="15"/><rect x="1476" y="1003" width="110" height="52"/><text x="1483" y="1047">D67</text></g>
<g id="D68"><ellipse class="G" cx="2198" cy="952" rx="22" ry="15"/><rect x="2225" y="954" width="110" height="52"/><text x="2232" y="998">D68</text></g>
<g id="D69"><ellipse class="R" cx="1898" cy="1048" rx="22" ry="15"/><rect x="1925" y="1050" width="110" height="52"/><text x="1932" y="1094">D69</text></g>
<g id="D70"><ellipse class="B" cx="2694" cy="135" rx="34" ry="22"/><rect x="2733" y="137" width="110" height="52"/><text x="2740" y="181">D70</text></g>
<g id="D71"><ellipse class="R" cx="589" cy="959" rx="22" ry="15"/><rect x="616" y="961" width="110" height="52"/><text x="623" y="1005">D71</text></g>
<g id="D72"><ellipse class="V" cx="2907" cy="135" rx="22" ry="15"/><rect x="2934" y="137" width="110" height="52"/><text x="2941" y="181">D72</text></g>
<g id="D73"><ellipse class="Y" cx="354" cy="696" rx="22" ry="15"/><rect x="381" y="698" width="110" height="52"/><text x="388" y="742">D73</text></g>
<g id="D74"><ellipse class="W" cx="1593" cy="1068" rx="22" ry="15"/><rect x="1620" y="1070" width="110" height="52"/><text x="1627" y="1114">D74</text></g>
<g id="D75"><ellipse class="Y" cx="400" cy="375" rx="22" ry="15"/><rect x="427" y="377" width="110" height="52"/><text x="434" y="421">D75</text></g>
<g id="D76"><ellipse class="W" cx="2631" cy="878" rx="22" ry="15"/><rect x="2658" y="880" width="110" height="52"/><text x="2665" y="924">D76</text></g>
<g id="D77"><ellipse class="S" cx="2694" cy="414" rx="22" ry="15"/><rect x="2721" y="416" width="110" height="52"/><text x="2728" y="460">D77</text></g>
<g id="D78"><ellipse class="Y" cx="647" cy="247" rx="22" ry="15"/><rect x="674" y="249" width="110" height="52"/><text x="681" y="293">D78</text></g>
<g id="R4"><ellipse class="B" cx="2529" cy="275" rx="49" ry="34"/><rect x="2583" y="277" width="76" height="52"/><text x="2590" y="321">R4</text></g>
</svg>
